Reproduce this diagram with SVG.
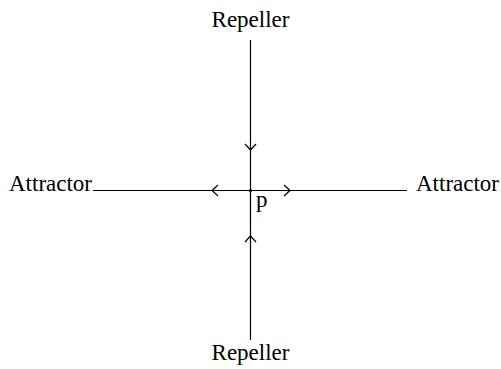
<svg xmlns="http://www.w3.org/2000/svg" width="501" height="369" viewBox="0 0 501 369">
<style>
.t{font-family:"Liberation Serif","Times New Roman",serif;font-size:23px;fill:#000}
.l{stroke:#000;stroke-width:1.2;fill:none}
</style>
<rect width="501" height="369" fill="#fff"/>
<g id="connectors">
<line class="l" x1="93" y1="190.5" x2="407" y2="190.5"/>
<line class="l" x1="250.5" y1="40" x2="250.5" y2="340"/>
<polyline class="l" points="245,144 250.5,150 256,144"/>
<polyline class="l" points="245,242 250.5,236 256,242"/>
<polyline class="l" points="218,185 212,190.5 218,196"/>
<polyline class="l" points="284,185 290,190.5 284,196"/>
</g>
<g id="p"><circle cx="250.5" cy="190.5" r="1.6" fill="#000"/><text class="t" x="256" y="207">p</text></g>
<g id="repeller-top"><text class="t" x="250.5" y="27" text-anchor="middle">Repeller</text></g>
<g id="repeller-bottom"><text class="t" x="250.5" y="360" text-anchor="middle">Repeller</text></g>
<g id="attractor-left"><text class="t" x="9" y="191">Attractor</text></g>
<g id="attractor-right"><text class="t" x="416" y="191">Attractor</text></g>
</svg>
